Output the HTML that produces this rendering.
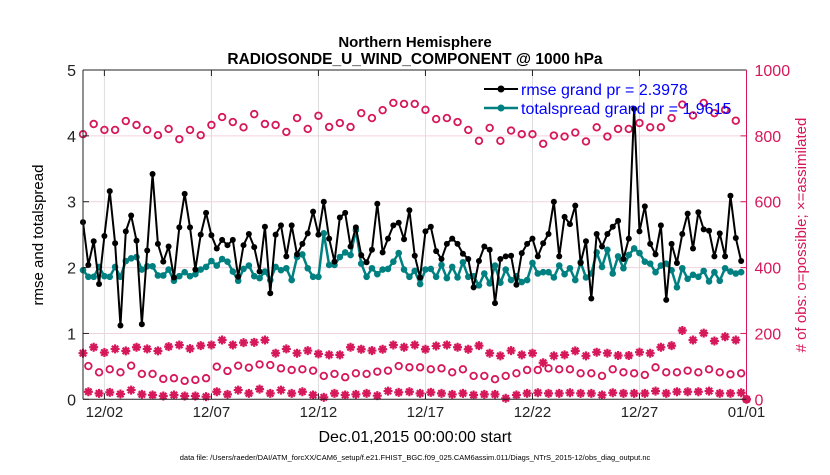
<!DOCTYPE html>
<html><head><meta charset="utf-8"><style>
body{margin:0;background:#fff;}
svg text{font-family:"Liberation Sans",Arial,sans-serif;}
</style></head><body>
<svg id="chart" width="830" height="470" xmlns="http://www.w3.org/2000/svg">
<rect width="830" height="470" fill="#fff"/>
<g id="grid"></g><g id="series"></g><g id="axes"></g>
<text x="415" y="47" text-anchor="middle" font-size="15" font-weight="bold">Northern Hemisphere</text>
<text x="415" y="64" text-anchor="middle" font-size="15.5" font-weight="bold">RADIOSONDE_U_WIND_COMPONENT @ 1000 hPa</text>
<text transform="translate(43,235) rotate(-90)" text-anchor="middle" font-size="15">rmse and totalspread</text>
<text transform="translate(806,235) rotate(-90)" text-anchor="middle" font-size="15" fill="#d6175a"># of obs: o=possible; ×=assimilated</text>
<text x="415" y="442" text-anchor="middle" font-size="16">Dec.01,2015 00:00:00 start</text>
<text x="415" y="460" text-anchor="middle" font-size="7.5">data file: /Users/raeder/DAI/ATM_forcXX/CAM6_setup/f.e21.FHIST_BGC.f09_025.CAM6assim.011/Diags_NTrS_2015-12/obs_diag_output.nc</text>
<g id="series-holder"></g>
<g id="legend">
<line x1="484" y1="89" x2="518" y2="89" stroke="#000" stroke-width="2"/><circle cx="501" cy="89" r="3.5" fill="#000"/>
<text x="521" y="95" font-size="16" fill="#0000ff">rmse grand pr = 2.3978</text>
<line x1="484" y1="108" x2="518" y2="108" stroke="#008080" stroke-width="2.5"/><circle cx="501" cy="108" r="3.5" fill="#008080"/>
<text x="521" y="114" font-size="16" fill="#0000ff">totalspread grand pr = 1.9615</text>
</g>
</svg>
<script>
const tickDays=[1,6,11,16,21,26,31];
const tickLabels=["12/02","12/07","12/12","12/17","12/22","12/27","01/01"];
const leftTicks=[0,1,2,3,4,5];
const rightTicks=[0,200,400,600,800,1000];
const rmse=[2.69,2.04,2.40,1.75,2.48,3.16,2.37,1.12,2.55,2.79,2.41,1.14,2.26,3.42,2.36,2.09,2.32,1.85,2.61,3.12,2.61,1.97,2.50,2.83,2.49,2.29,2.42,2.34,2.42,1.86,2.34,2.51,2.31,1.94,2.62,1.61,2.50,2.64,2.17,2.64,2.20,2.36,2.52,
2.85,2.50,3.00,2.44,2.09,2.76,2.83,2.32,2.61,2.19,2.08,2.27,2.97,2.23,2.44,2.64,2.68,2.43,2.87,2.18,1.85,2.55,2.62,2.25,2.13,2.36,2.44,2.36,2.21,2.13,1.70,2.10,2.32,2.27,1.46,2.13,2.17,2.18,1.74,2.22,2.36,2.44,2.17,
2.37,2.51,3.00,2.17,2.77,2.66,2.94,2.07,2.40,1.53,2.51,2.32,2.51,2.62,2.71,2.13,2.44,4.41,2.55,2.93,2.36,2.20,2.64,1.51,2.36,2.07,2.51,2.82,2.29,2.84,2.58,2.56,2.17,2.52,2.17,3.09,2.45,2.10];
const spread=[1.96,1.86,1.86,2.01,1.87,1.86,2.01,1.86,2.10,2.14,2.16,1.97,2.02,2.02,1.88,1.88,1.97,1.80,1.87,1.93,1.87,1.90,1.97,2.01,2.10,2.03,2.13,2.09,1.94,1.80,1.98,2.03,1.87,1.84,1.94,1.81,2.01,1.96,1.99,1.81,2.16,2.20,1.99,
1.86,1.86,2.52,2.04,2.04,2.16,2.23,2.19,2.57,2.06,1.86,1.99,1.90,1.97,1.98,2.09,2.22,1.97,1.86,1.95,1.75,1.97,1.98,1.86,2.04,1.84,2.01,1.85,2.08,1.86,1.87,1.73,1.91,1.76,2.03,1.77,1.97,1.81,1.87,1.78,1.81,2.07,1.91,
1.93,1.93,1.85,2.03,1.90,1.99,1.81,2.08,1.85,1.91,2.23,2.01,2.27,1.91,2.17,1.99,2.19,2.29,2.22,2.09,2.06,1.93,2.03,2.06,1.96,1.70,1.99,1.83,1.89,1.86,1.95,1.79,1.93,1.80,1.99,1.94,1.91,1.93];
// obs counts at 00Z/12Z (even steps) and 06Z/18Z (odd steps)
const possibleSynoptic=[805,836,818,818,845,833,818,802,821,790,818,802,833,857,842,826,866,836,833,812,854,821,
861,827,839,827,869,854,878,900,897,897,879,851,854,842,818,785,824,785,816,805,805,
776,801,798,810,783,826,798,821,821,839,826,826,854,895,862,900,869,879,846,0];
const possibleOff=[101,82,91,82,102,77,77,62,64,56,59,64,99,86,102,96,106,104,94,89,91,
87,71,77,67,79,77,84,87,101,97,97,91,94,82,91,71,71,61,71,79,89,89,
94,91,91,79,79,71,91,82,79,74,97,82,82,87,82,91,82,76,79];
const assimSynoptic=[140,158,142,153,147,158,153,147,160,165,154,163,165,180,165,172,173,180,140,153,140,148,
138,135,135,158,152,148,152,165,158,165,152,162,165,158,152,163,140,132,148,135,140,
111,132,135,147,132,143,140,133,133,143,140,158,163,209,180,201,177,190,180,0];
const assimOff=[23,18,21,16,28,15,13,10,13,10,10,8,23,15,28,18,31,18,28,18,23,
13,6,18,13,15,18,11,25,21,23,18,21,18,15,18,13,15,15,3,13,18,20,
18,18,20,18,18,13,20,18,18,18,25,18,23,23,23,25,18,18,20];

const X0=83,X1=746.5,Y0=399.3,Y1=70,CR="#d6175a",NS="http://www.w3.org/2000/svg";
const xs=d=>X0+(d/31)*(X1-X0);
const xi=i=>xs(i*0.25);
const yl=v=>Y0-(v/5)*(Y0-Y1);
const yr=v=>Y0-(v/1000)*(Y0-Y1);
function mk(tag,attrs,parent){const e=document.createElementNS(NS,tag);for(const k in attrs)e.setAttribute(k,attrs[k]);parent.appendChild(e);return e;}
const grid=document.getElementById('grid'),ser=document.getElementById('series'),ax=document.getElementById('axes');
rightTicks.forEach((t,k)=>{if(k>0&&k<5){const l=mk('line',{x1:X0,x2:X1,y1:yr(t),y2:yr(t),stroke:'#f1d3dd','stroke-width':1},grid);

}});
tickDays.forEach((d,k)=>{const x=xs(d);
if(k<6){const g=mk('line',{x1:x,x2:x,y1:Y1,y2:Y0,stroke:'#dcdcdc','stroke-width':1},grid);

}
mk('line',{x1:x,x2:x,y1:Y0,y2:Y0-6,stroke:'#222'},ax);mk('line',{x1:x,x2:x,y1:Y1,y2:Y1+6,stroke:'#222'},ax);
const t=mk('text',{x:x,y:417,'text-anchor':'middle','font-size':15,fill:'#222'},ax);t.textContent=tickLabels[k];

});
leftTicks.forEach(v=>{const y=yl(v);mk('line',{x1:X0,x2:X0+6,y1:y,y2:y,stroke:'#222'},ax);
const t=mk('text',{x:X0-7,y:y+6,'text-anchor':'end','font-size':16,fill:'#222'},ax);t.textContent=v;

});
rightTicks.forEach(v=>{const y=yr(v);mk('line',{x1:X1,x2:X1-6,y1:y,y2:y,stroke:CR},ax);
const t=mk('text',{x:X1+8,y:y+6,'font-size':16,fill:CR},ax);t.textContent=v;

});
mk('line',{x1:X0,x2:X1,y1:Y1,y2:Y1,stroke:'#222'},ax);mk('line',{x1:X0,x2:X1,y1:Y0,y2:Y0,stroke:'#222'},ax);
mk('line',{x1:X0,x2:X0,y1:Y1,y2:Y0,stroke:'#222'},ax);mk('line',{x1:X1,x2:X1,y1:Y1,y2:Y0,stroke:CR},ax);
function star(x,y,name){const s=4.5,d=s*0.707;
const p=mk('path',{d:`M${x-s} ${y}H${x+s}M${x} ${y-s}V${y+s}M${x-d} ${y-d}L${x+d} ${y+d}M${x-d} ${y+d}L${x+d} ${y-d}`,stroke:CR,'stroke-width':2.2,fill:'none'},ser);

}
function ring(x,y,name){const c=mk('circle',{cx:x,cy:y,r:3.3,fill:'none',stroke:CR,'stroke-width':1.8},ser);

}
possibleSynoptic.forEach((v,k)=>ring(xi(2*k),yr(v),'possible-obs-marker'));
possibleOff.forEach((v,k)=>ring(xi(2*k+1),yr(v),'possible-obs-marker'));
assimSynoptic.forEach((v,k)=>star(xi(2*k),yr(v),'assimilated-obs-marker'));
assimOff.forEach((v,k)=>star(xi(2*k+1),yr(v),'assimilated-obs-marker'));
function line(vals,col,w,r,name){
const pl=mk('polyline',{points:vals.map((v,i)=>xi(i)+','+yl(v)).join(' '),fill:'none',stroke:col,'stroke-width':w,'stroke-linejoin':'round'},ser);


vals.forEach((v,i)=>{const c=mk('circle',{cx:xi(i),cy:yl(v),r:r,fill:col},ser);

});}
line(spread,'#008080',2.5,3.3,'totalspread');
line(rmse,'#000',2,3,'rmse');
</script>
</body></html>
